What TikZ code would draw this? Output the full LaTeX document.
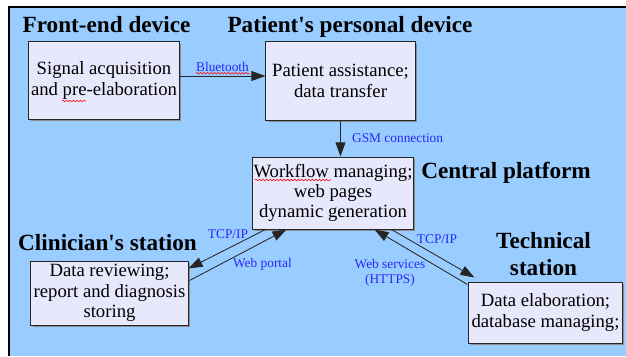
\documentclass[tikz,border=0pt]{standalone}
\usepackage{fontspec}
\setmainfont{LiberationSerif}[Extension=.ttf, UprightFont=*-Regular, BoldFont=*-Bold, ItalicFont=*-Italic, BoldItalicFont=*-BoldItalic]
\usepackage{xcolor}
\usetikzlibrary{arrows.meta,shadows,calc,positioning,decorations.pathmorphing}

\definecolor{skyback}{RGB}{153,204,255}
\definecolor{boxfill}{RGB}{232,232,252}
\definecolor{linkblue}{RGB}{40,40,255}

\begin{document}
\begin{tikzpicture}[x=0.025cm, y=-0.025cm,
    box/.style={draw=black!85, line width=0.7pt, fill=boxfill, align=center, inner sep=0pt, font=\fontsize{13.3}{14.5}\selectfont, drop shadow={shadow xshift=0.06cm, shadow yshift=-0.06cm, fill=black!45, opacity=1}},
    title/.style={font=\fontsize{16.5}{19}\selectfont\bfseries, align=center, inner sep=0pt},
    lbl/.style={font=\fontsize{9.5}{11}\selectfont, text=linkblue, align=center, inner sep=0pt},
    link/.style={draw=black!85, line width=0.6pt, -{Triangle[length=10pt,width=7pt]}},
    spell/.style={draw=red, line width=0.4pt, decorate, decoration={snake, segment length=2.5pt, amplitude=0.6pt}}]
        \useasboundingbox (0,0) rectangle (626,356);
        \fill[skyback] (9,7) rectangle (626,356);
        \draw[line width=0.8pt] (9,356) -- (9,7) -- (626,7);

        \node[box, minimum width=3.75cm, minimum height=1.925cm] (sig) at (104,80.5) {Signal acquisition\\and pre-elaboration};
        \node[box, minimum width=3.725cm, minimum height=1.95cm] (pat) at (340.5,81) {Patient assistance;\\data transfer};
        \node[box, minimum width=4cm, minimum height=1.8cm] (cen) at (333,193) {Workflow managing;\\web pages\\dynamic generation};
        \node[box, minimum width=3.925cm, minimum height=1.6cm] (cli) at (109.5,293) {Data reviewing;\\report and diagnosis\\storing};
        \node[box, minimum width=3.825cm, minimum height=1.525cm] (tec) at (545.5,312.5) {Data elaboration;\\database managing;};

        \node[title, anchor=base] (tfront) at (106.5,32) {Front-end device};
        \node[title, anchor=base] (tpat) at (350,32) {Patient\textquotesingle s personal device};
        \node[title, anchor=base] (tcen) at (506,178) {Central platform};
        \node[title, anchor=base] (tcli) at (107.5,250) {Clinician\textquotesingle s station};
        \node[title] (ttec) at (543.5,254) {Technical\\station};

        \coordinate (btrow) at (0,76);
        \draw[link] (sig.east |- btrow) -- (pat.west |- btrow) node[lbl, midway, above=3pt] (bt) {Bluetooth};
        \draw[link] (pat.south) -- (pat.south |- cen.north) node[lbl, midway, right=8pt] (gsm) {GSM connection};

        \draw[link] ($(cen.south west)+(13,0)$) -- ($(cli.north east)+(0,8)$);
        \draw[link] ($(cli.north east)+(1,20)$) -- ($(cen.south west)+(34,0)$);
        \node[lbl] (tcpl) at (228,234) {TCP/IP};
        \node[lbl] (wport) at (262.5,264) {Web portal};

        \draw[link] ($(cen.south west)+(139,0)$) -- ($(tec.north west)+(6,-4)$);
        \draw[link] ($(tec.north west)+(-1,3)$) -- ($(cen.south west)+(122,0)$);
        \node[lbl] (tcpr) at (437,239) {TCP/IP};
        \node[lbl] (wsvc) at (390,273) {Web services\\(HTTPS)};

        \draw[spell] ($(bt.south west)+(0,1.5)$) -- ($(bt.south east)+(0,1.5)$);
        \draw[spell] (62,101) -- (86,101);
        \draw[spell] (255,180) -- (331,180);
    \end{tikzpicture}
\end{document}
